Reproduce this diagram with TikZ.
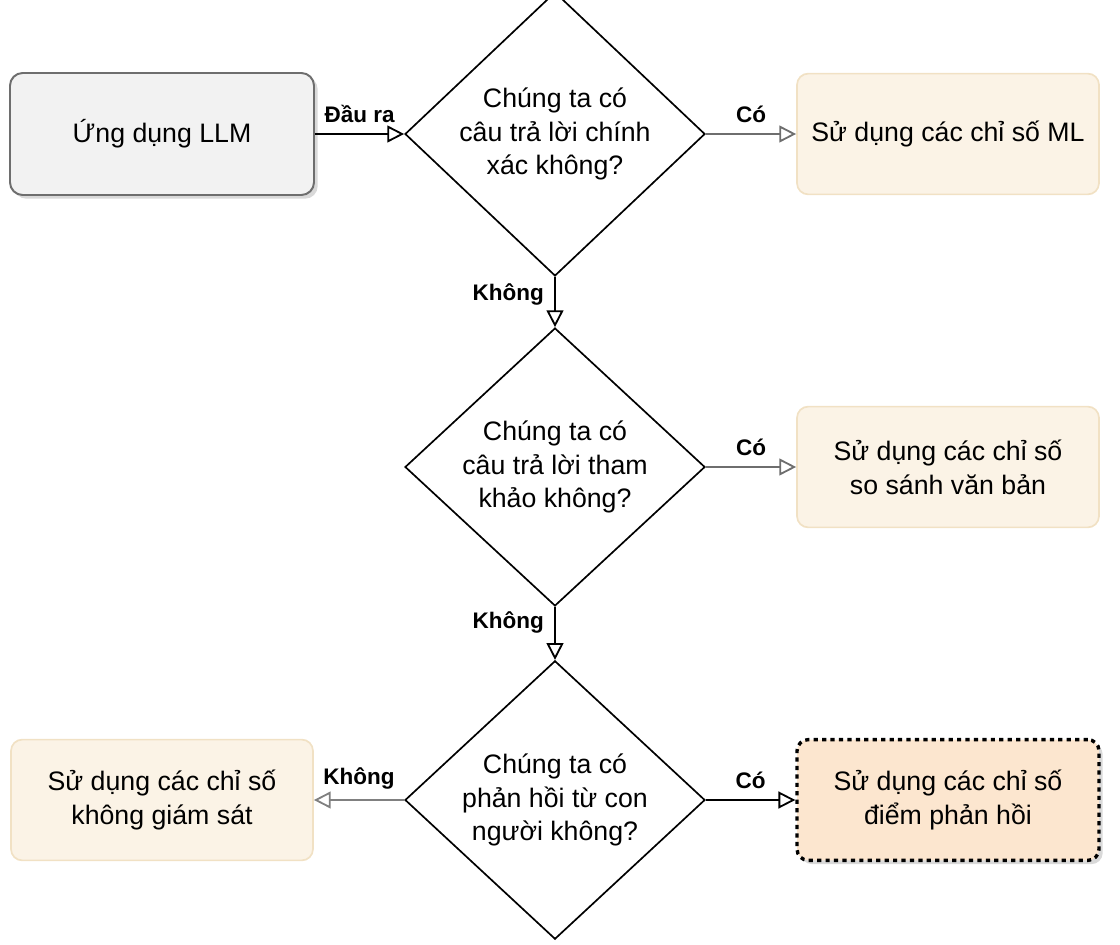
\documentclass[tikz,border=0pt]{standalone}
\usepackage{fontspec}
\setmainfont{Liberation Sans}
\usetikzlibrary{shapes.geometric,arrows.meta,shadows}
\definecolor{boxgray}{HTML}{F2F2F2}
\definecolor{linegray}{HTML}{6E6E6E}
\definecolor{boxbeige}{HTML}{FBF3E6}
\definecolor{linebeige}{HTML}{F1E1C4}
\definecolor{boxpeach}{HTML}{FCE6CF}
\tikzset{every path/.style={thick},
  dec/.style={diamond,draw,line width=1.2pt,inner sep=0pt,minimum width=7.5cm,minimum height=6.05cm,align=center,font=\fontsize{19}{24}\selectfont},
  result/.style={rectangle,rounded corners=8pt,draw=linebeige,fill=boxbeige,line width=1.2pt,minimum width=7.55cm,minimum height=3.02cm,align=center,font=\fontsize{19}{24}\selectfont},
  flow/.style={-{Triangle[open,length=12pt,width=12pt]},line width=1.3pt},
  lbl/.style={font=\bfseries\fontsize{16}{19}\selectfont}}
\begin{document}
\begin{tikzpicture}
\useasboundingbox (0,0) rectangle (28,23.6);
\node[rectangle,rounded corners=9pt,draw=linegray,fill=boxgray,line width=1.4pt,minimum width=7.6cm,minimum height=3.05cm,drop shadow={opacity=0.3},font=\fontsize{19}{24}\selectfont] (app) at (4.05,20.25) {Ứng dụng LLM};
\node[dec] (q1) at (13.875,20.25) {Chúng ta có\\câu trả lời chính\\xác không?};
\node[dec] (q2) at (13.875,11.925) {Chúng ta có\\câu trả lời tham\\khảo không?};
\node[dec,minimum height=6cm] (q3) at (13.875,3.6) {Chúng ta có\\phản hồi từ con\\người không?};
\node[result] (ml) at (23.7,20.25) {Sử dụng các chỉ số ML};
\node[result] (txt) at (23.7,11.925) {Sử dụng các chỉ số\\so sánh văn bản};
\node[result,fill=boxpeach,draw=black,dashed,line width=2.4pt,drop shadow={opacity=0.3}] (fb) at (23.7,3.6) {Sử dụng các chỉ số\\điểm phản hồi};
\node[result] (uns) at (4.05,3.6) {Sử dụng các chỉ số\\không giám sát};
\draw[flow] (app) -- node[lbl,above=4pt] {Đầu ra} (q1);
\draw[flow,linegray] (q1) -- node[lbl,black,above=4pt] {Có} (ml);
\draw[flow] (q1) -- node[lbl,left=4pt,pos=0.35] {Không} (q2);
\draw[flow,linegray] (q2) -- node[lbl,black,above=4pt] {Có} (txt);
\draw[flow] (q2) -- node[lbl,left=4pt,pos=0.3] {Không} (q3);
\draw[flow] (q3) -- node[lbl,above=4pt] {Có} (fb);
\draw[flow,gray] (q3) -- node[lbl,black,above=4pt] {Không} (uns);
\end{tikzpicture}
\end{document}
